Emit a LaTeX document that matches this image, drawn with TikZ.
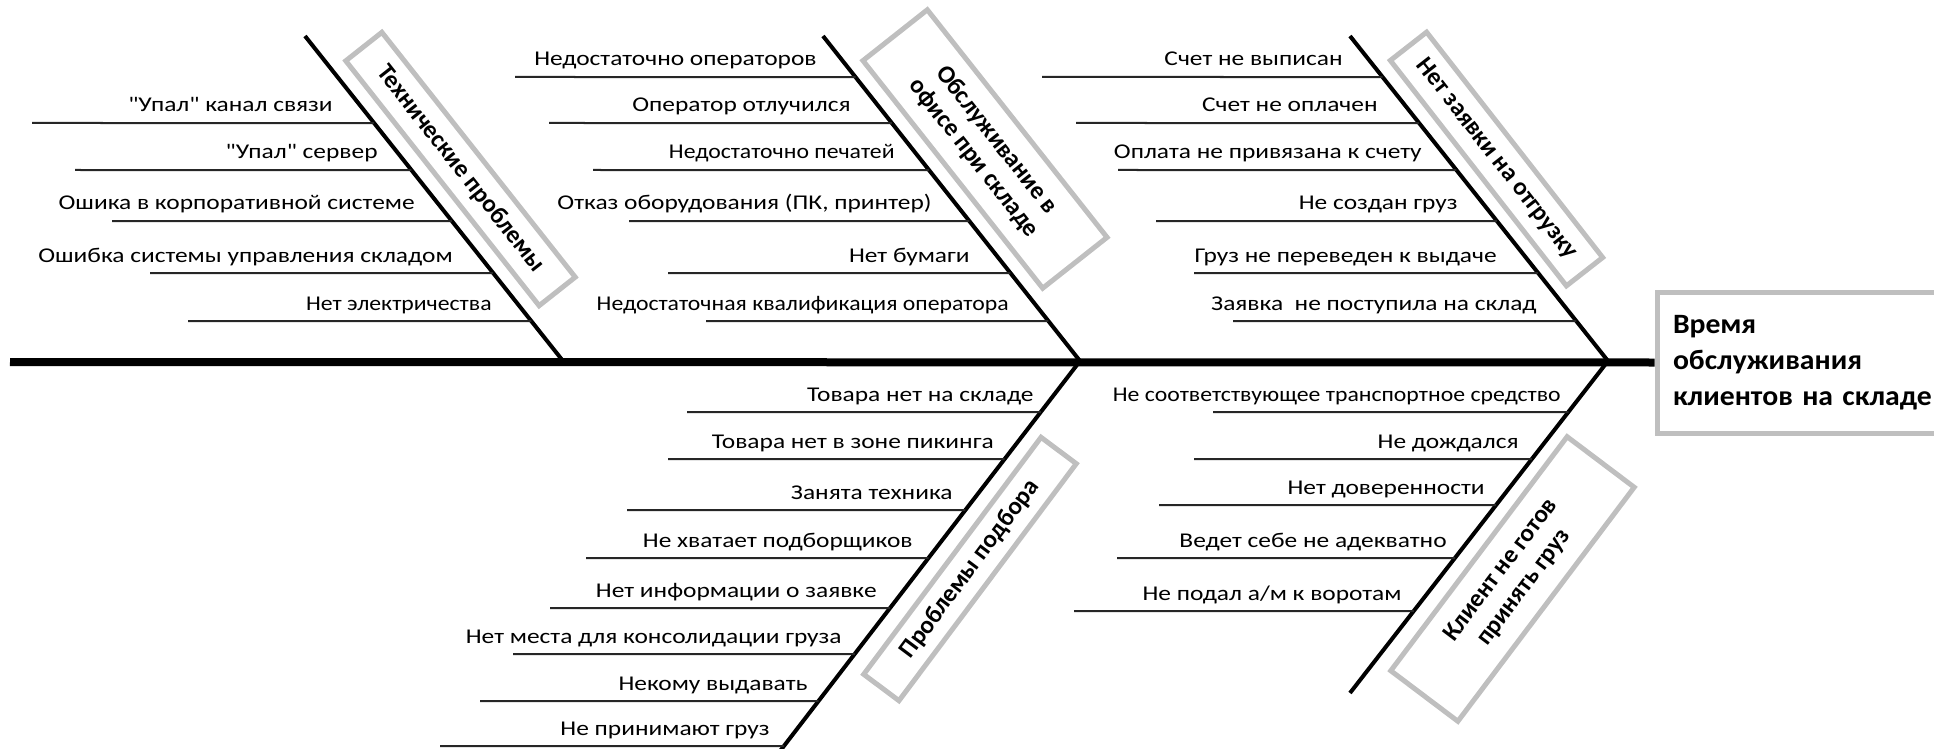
\documentclass[tikz,border=0pt]{standalone}
\usepackage{fontspec}
\setmainfont{Carlito}
\newfontfamily\labfont[FakeStretch=1.21]{Carlito}
\newfontfamily\labfontc[FakeStretch=1.13]{Carlito}
\newfontfamily\titfont[FakeStretch=1.06]{Carlito}
\usetikzlibrary{calc}
\newcommand{\fbcause}[6]{%
  \coordinate (#1s) at (#3,#4);
  \node[lab, anchor=base east] (#1) at (#5,{#4-11}) {#6};
  \draw[labline] (#1s) -- (intersection cs: first line={(#2t)--(#2b)}, second line={(#1s)--(2000,#4)});
}
\begin{document}
\begin{tikzpicture}[x=0.5pt,y=-0.5pt,
  lab/.style={font=\labfont\fontsize{10.5}{12}\selectfont, inner sep=0pt},
  labline/.style={line width=1pt, draw=black!85},
  bone/.style={line width=2pt, draw=black},
  spineline/.style={line width=4pt, draw=black},
  catbox/.style={draw=black!25, line width=2.5pt, font=\bfseries\fontsize{12.5}{14.5}\selectfont, align=center, inner sep=0pt},
  titlebox/.style={draw=black!25, line width=2.5pt, font=\titfont\bfseries\fontsize{14}{18}\selectfont, align=left, inner xsep=8pt, inner ysep=0pt, text width=135.5pt, minimum width=151.5pt, minimum height=70.5pt}
  ]
\path[use as bounding box] (0,0) rectangle (1934,749);
\clip (0,0) rectangle (1934,749);

% head
\node[titlebox] (title) at (1808.5,362.5) {Время\\обслуживания\\клиентов на складе};

% bones
\coordinate (sp) at (10,362);
\coordinate (b1t) at (305,36);  \coordinate (b1b) at (563,361);
\coordinate (b2t) at (823,36);  \coordinate (b2b) at (1080,361);
\coordinate (b3t) at (1350,36); \coordinate (b3b) at (1608,361);
\coordinate (b4t) at (1080,361); \coordinate (b4b) at (777,755);
\coordinate (b5t) at (1608,361); \coordinate (b5b) at (1350,693);

\draw[bone] (b1t) -- (b1b);
\draw[bone] (b2t) -- (b2b);
\draw[bone] (b3t) -- (b3b);
\draw[bone] (b4t) -- (b4b);
\draw[bone] (b5t) -- (b5b);
\draw[spineline] (sp) -- (title.west);

% category boxes
\node[catbox, rotate=-51.7, minimum width=156pt, minimum height=23pt] (k1) at (460.5,169) {Технические проблемы};
\node[catbox, rotate=-51.7, minimum width=145pt, minimum height=41pt] (k2) at (985,149) {Обслуживание в\\офисе при складе};
\node[catbox, rotate=-52, minimum width=143pt, minimum height=23pt] (k3) at (1496.5,159) {Нет заявки на отгрузку};
\node[catbox, rotate=53.2, minimum width=148pt, minimum height=22pt] (k4) at (970,569) {Проблемы подбора};
\node[catbox, rotate=53, minimum width=146.5pt, minimum height=42pt] (k5) at (1512.5,579) {Клиент не готов\\принять груз};

% causes
\fbcause{a1}{b1}{32}{123}{333}{"Упал" канал связи}
\fbcause{a2}{b1}{75}{170}{378}{"Упал" сервер}
\fbcause{a3}{b1}{112}{221}{415}{Ошика в корпоративной системе}
\fbcause{a4}{b1}{150}{273}{453}{Ошибка системы управления складом}
\fbcause{a5}{b1}{188}{321}{492}{\labfontc Нет электричества}

\fbcause{c1}{b2}{515}{77}{817}{Недостаточно операторов}
\fbcause{c2}{b2}{549}{123}{851}{Оператор отлучился}
\fbcause{c3}{b2}{593}{170}{895}{\labfontc Недостаточно печатей}
\fbcause{c4}{b2}{629}{221}{932}{Отказ оборудования (ПК, принтер)}
\fbcause{c5}{b2}{668}{273}{970}{Нет бумаги}
\fbcause{c6}{b2}{706}{321}{1009}{\labfontc Недостаточная квалификация оператора}

\fbcause{d1}{b3}{1042}{77}{1343}{Счет не выписан}
\fbcause{d2}{b3}{1076}{123}{1378}{Счет не оплачен}
\fbcause{d3}{b3}{1118}{170}{1422}{Оплата не привязана к счету}
\fbcause{d4}{b3}{1156}{221}{1458}{Не создан груз}
\fbcause{d5}{b3}{1194}{273}{1497}{Груз не переведен к выдаче}
\fbcause{d6}{b3}{1233}{321}{1537}{Заявка\ \ не поступила на склад}

\fbcause{e1}{b4}{687}{412}{1034}{Товара нет на складе}
\fbcause{e2}{b4}{668}{459}{994}{Товара нет в зоне пикинга}
\fbcause{e3}{b4}{627}{510}{953}{Занята техника}
\fbcause{e4}{b4}{586}{558}{913}{Не хватает подборщиков}
\fbcause{e5}{b4}{550}{608}{877}{Нет информации о заявке}
\fbcause{e6}{b4}{513}{654}{842}{Нет места для консолидации груза}
\fbcause{e7}{b4}{480}{701}{808}{Некому выдавать}
\fbcause{e8}{b4}{440}{746}{770}{Не принимают груз}

\fbcause{f1}{b5}{1213}{412}{1561}{\labfontc Не соответствующее транспортное средство}
\fbcause{f2}{b5}{1194}{459}{1519}{Не дождался}
\fbcause{f3}{b5}{1159}{505}{1485}{Нет доверенности}
\fbcause{f4}{b5}{1117}{558}{1447}{Ведет себе не адекватно}
\fbcause{f5}{b5}{1074}{611}{1402}{Не подал а/м к воротам}
\end{tikzpicture}
\end{document}
